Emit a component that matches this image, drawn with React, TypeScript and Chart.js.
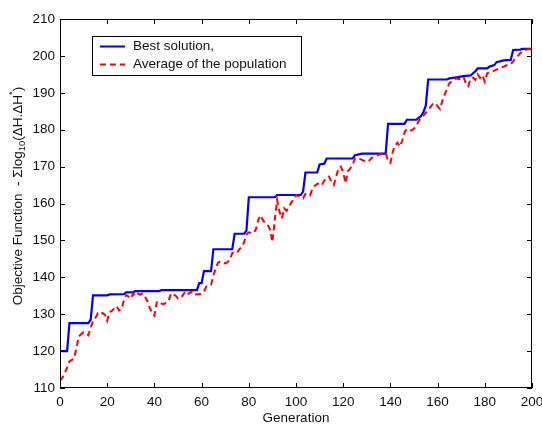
import { useEffect, useRef } from "react";
import { Chart, registerables } from "chart.js";

Chart.register(...registerables);

const xTicks = [0, 20, 40, 60, 80, 100, 120, 140, 160, 180, 200];
const yTicks = [110, 120, 130, 140, 150, 160, 170, 180, 190, 200, 210];

const bestLabel = "Best solution,";
const avgLabel = "Average of the population";

// Best solution: generation of each change point and its value
const bestGen = [
  0, 3, 4, 12, 13, 14, 20, 21, 27, 28, 31, 32, 42, 43, 58, 59, 60, 61, 64, 65,
  73, 74, 78, 79, 80, 91, 92, 102, 103, 104, 109, 110, 112, 113, 124, 125, 128,
  138, 139, 146, 147, 151, 152, 153, 154, 155, 156, 164, 165, 168, 171, 174,
  175, 176, 177, 181, 182, 184, 185, 188, 191, 192, 195, 196, 200,
];
const bestVal = [
  120, 120, 127.6, 127.6, 128.5, 135.1, 135.1, 135.35, 135.4, 135.9, 136.0,
  136.25, 136.25, 136.5, 136.5, 138.4, 138.4, 141.7, 141.7, 147.6, 147.6, 151.8,
  151.8, 152.6, 161.7, 161.7, 162.3, 162.3, 163.2, 168.4, 168.4, 170.6, 170.8,
  172.2, 172.2, 173.1, 173.5, 173.5, 181.6, 181.6, 182.7, 182.7, 183.2, 183.7,
  184.8, 186.5, 193.6, 193.6, 193.9, 194.2, 194.5, 194.7, 195.3, 195.8, 196.6,
  196.6, 197.1, 197.5, 198.3, 198.8, 198.9, 201.6, 201.7, 201.9, 201.9,
];

// Average of the population, generations 0..200
const avgVal = [
  112.0, 112.8, 114.0, 115.5, 117.2, 117.6, 118.0, 121.0, 124.0, 124.6,
  125.1, 124.8, 124.3, 126.3, 128.2, 129.0, 130.2, 129.8, 130.3, 129.9,
  128.2, 130.6, 130.9, 131.6, 132.2, 131.0, 131.3, 133.5, 135.2, 134.8,
  134.2, 135.6, 134.9, 135.6, 135.3, 135.6, 134.8, 133.6, 131.8, 130.2,
  129.6, 133.2, 133.5, 132.9, 132.7, 133.2, 133.5, 135.6, 135.4, 135.0,
  134.2, 134.4, 135.1, 136.1, 135.4, 135.8, 136.2, 135.3, 135.4, 135.4,
  135.6, 136.2, 137.5, 137.7, 138.0, 140.5, 142.5, 144.0, 144.3, 144.2,
  143.8, 144.1, 144.8, 146.6, 146.8, 146.6, 147.6, 148.2, 149.5, 151.6,
  152.2, 152.0, 152.0, 153.0, 155.5, 156.8, 155.5, 154.7, 154.2, 153.0,
  149.5, 155.5, 161.0, 157.8, 156.0, 158.7, 158.0, 159.0, 160.3, 161.0,
  162.3, 162.0, 161.8, 161.4, 162.6, 162.8, 162.3, 164.0, 164.8, 165.3,
  165.5, 165.0, 166.2, 167.0, 167.3, 165.9, 165.0, 167.2, 169.5, 170.0,
  168.5, 165.5, 168.8, 169.5, 170.5, 172.2, 172.4, 172.1, 171.8, 171.5,
  171.3, 171.6, 172.3, 172.6, 173.0, 173.2, 173.4, 173.6, 173.7, 171.5,
  171.0, 174.0, 175.8, 176.5, 175.4, 177.0, 179.3, 180.2, 180.0, 179.8,
  180.3, 181.0, 182.4, 183.0, 183.8, 184.6, 185.3, 186.2, 187.0, 187.2,
  186.3, 185.6, 187.8, 189.5, 191.2, 192.6, 193.1, 193.5, 193.9, 193.7,
  194.0, 194.3, 192.4, 191.8, 193.9, 194.1, 193.5, 195.0, 194.0, 194.8,
  193.0, 195.3, 195.5, 195.7, 196.0, 196.3, 196.6, 196.9, 197.1, 197.4,
  197.6, 197.7, 198.5, 199.4, 200.0, 200.7, 201.2, 201.6, 201.8, 201.9,
  201.6,
];

const FONT = '"Liberation Sans", Arial, sans-serif';
const FS = 13.5;
const BLUE = "#0000ff";
const RED = "#ff0000";

const framePlugin = {
  id: "matlabFrame",
  afterDraw(chart: any) {
    const { ctx, chartArea } = chart;
    const { left, right, top, bottom } = chartArea;
    const xs = chart.scales.x;
    const ys = chart.scales.y;
    ctx.save();
    ctx.strokeStyle = "#000";
    ctx.lineWidth = 1;
    ctx.strokeRect(left + 0.5, top + 0.5, right - left - 1, bottom - top - 1);
    const tl = 5;
    ctx.beginPath();
    xs.ticks.forEach((t: any) => {
      const px = Math.round(xs.getPixelForValue(t.value)) + 0.5;
      ctx.moveTo(px, bottom);
      ctx.lineTo(px, bottom - tl);
      ctx.moveTo(px, top);
      ctx.lineTo(px, top + tl);
    });
    ys.ticks.forEach((t: any) => {
      const py = Math.round(ys.getPixelForValue(t.value)) + 0.5;
      ctx.moveTo(left, py);
      ctx.lineTo(left + tl, py);
      ctx.moveTo(right, py);
      ctx.lineTo(right - tl, py);
    });
    ctx.stroke();

    // legend box
    const bx = 92, by = 36, bw = 209, bh = 39;
    ctx.fillStyle = "#fff";
    ctx.fillRect(bx, by, bw, bh);
    ctx.strokeRect(bx + 0.5, by + 0.5, bw, bh);
    const ds = chart.data.datasets;
    const rows = [
      { label: ds[1].label, color: BLUE, dash: [] as number[], y: 46.5 },
      { label: ds[0].label, color: RED, dash: [6, 4], y: 64.5 },
    ];
    rows.forEach((r) => {
      ctx.beginPath();
      ctx.setLineDash(r.dash);
      ctx.strokeStyle = r.color;
      ctx.lineWidth = 2;
      ctx.moveTo(100, r.y);
      ctx.lineTo(125, r.y);
      ctx.stroke();
      ctx.setLineDash([]);
      ctx.fillStyle = "#111";
      ctx.font = `${FS}px ${FONT}`;
      ctx.textAlign = "left";
      ctx.textBaseline = "middle";
      ctx.fillText(r.label, 133, r.y);
    });

    // y-axis title with subscript / superscript
    const parts = [
      { t: "Objective Function  - \u03A3log", s: FS, dy: 0 },
      { t: "10", s: 9.5, dy: 4 },
      { t: "(\u0394H.\u0394H", s: FS, dy: 0 },
      { t: "*", s: 9.5, dy: -6 },
      { t: ")", s: FS, dy: 0 },
    ];
    let total = 0;
    parts.forEach((p) => {
      ctx.font = `${p.s}px ${FONT}`;
      total += ctx.measureText(p.t).width;
    });
    ctx.translate(18, 196);
    ctx.rotate(-Math.PI / 2);
    ctx.fillStyle = "#111";
    ctx.textAlign = "left";
    ctx.textBaseline = "middle";
    let x = -total / 2;
    parts.forEach((p) => {
      ctx.font = `${p.s}px ${FONT}`;
      ctx.fillText(p.t, x, p.dy);
      x += ctx.measureText(p.t).width;
    });
    ctx.restore();
  },
};

export default function App() {
  const ref = useRef<HTMLCanvasElement | null>(null);
  useEffect(() => {
    document.body.style.margin = "0";
    const canvas = ref.current;
    if (!canvas) return;
    const chart = new Chart(canvas, {
      type: "line",
      data: {
        datasets: [
          {
            label: avgLabel,
            data: avgVal.map((v, i) => ({ x: i, y: v })),
            borderColor: RED,
            borderWidth: 2,
            borderDash: [6, 4],
            pointRadius: 0,
            tension: 0,
            fill: false,
            order: 0,
          },
          {
            label: bestLabel,
            data: bestGen.map((g, i) => ({ x: g, y: bestVal[i] })),
            borderColor: BLUE,
            borderWidth: 2.2,
            pointRadius: 0,
            tension: 0,
            fill: false,
            order: 1,
          },
        ],
      },
      options: {
        responsive: false,
        animation: false,
        layout: { padding: { top: 19, right: 10, left: 0, bottom: 0 } },
        plugins: { legend: { display: false }, tooltip: { enabled: false } },
        scales: {
          x: {
            type: "linear",
            min: 0,
            max: 200,
            afterBuildTicks: (s: any) => {
              s.ticks = xTicks.map((v) => ({ value: v }));
            },
            ticks: {
              padding: 6,
              maxRotation: 0,
              autoSkip: false,
              color: "#111",
              font: { family: FONT, size: FS },
            },
            grid: { display: false, drawTicks: false },
            border: { display: false },
            title: {
              display: true,
              text: "Generation",
              color: "#111",
              font: { family: FONT, size: FS },
              padding: { top: 0, bottom: 0 },
            },
            afterFit: (s: any) => {
              s.height = 38;
              s.paddingLeft = 0;
              s.paddingRight = 0;
            },
          },
          y: {
            type: "linear",
            min: 110,
            max: 210,
            afterBuildTicks: (s: any) => {
              s.ticks = yTicks.map((v) => ({ value: v }));
            },
            ticks: {
              padding: 5,
              autoSkip: false,
              color: "#111",
              font: { family: FONT, size: FS },
            },
            grid: { display: false, drawTicks: false },
            border: { display: false },
            afterFit: (s: any) => {
              s.width = 60;
              s.paddingTop = 0;
              s.paddingBottom = 0;
            },
          },
        },
      },
      plugins: [framePlugin],
    });
    return () => chart.destroy();
  }, []);
  return (
    <canvas
      ref={ref}
      width={542}
      height={426}
      style={{ display: "block", width: 542, height: 426 }}
    />
  );
}
